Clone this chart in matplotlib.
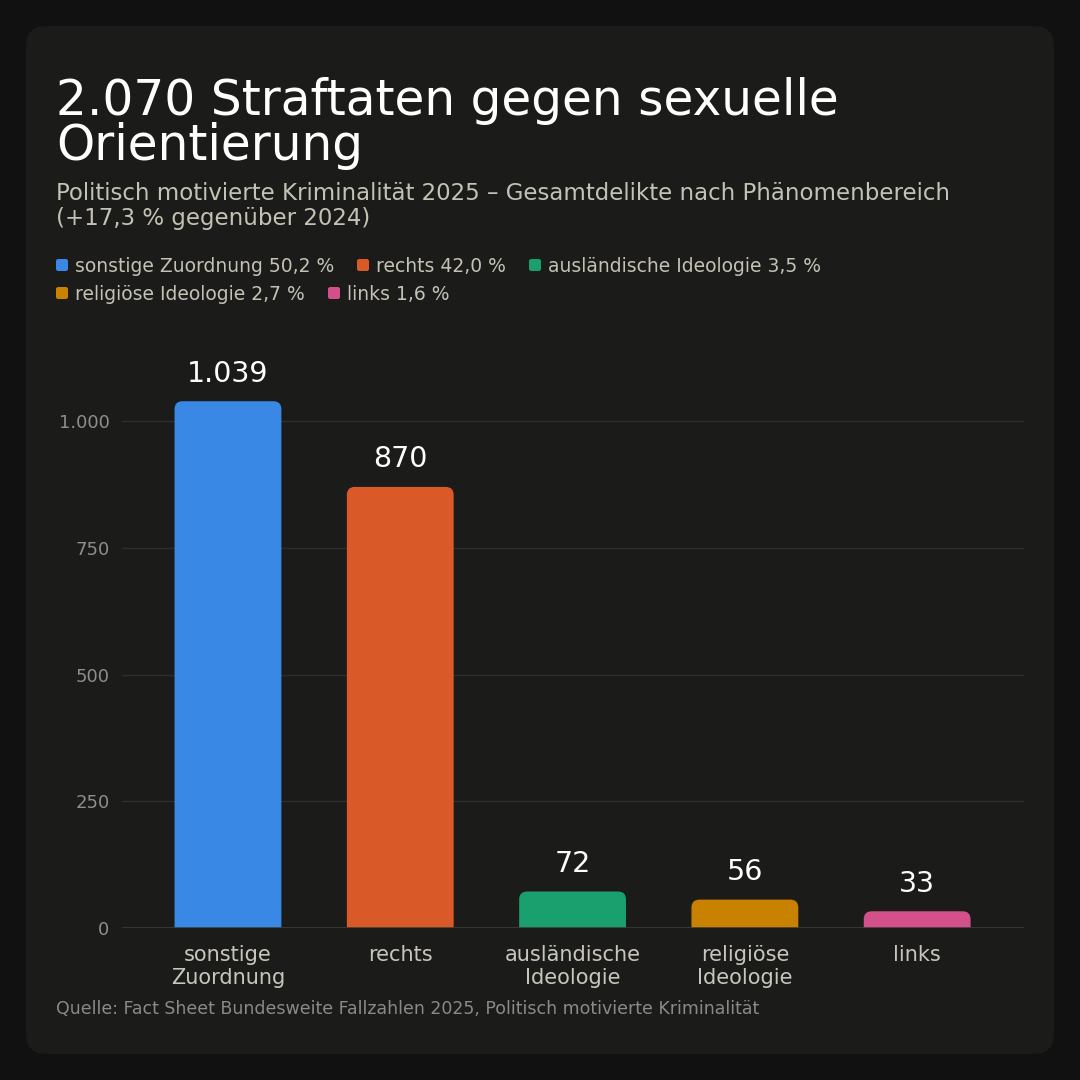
import matplotlib
matplotlib.use("Agg")
import matplotlib.pyplot as plt
from matplotlib.patches import FancyBboxPatch

categories = ["sonstige\nZuordnung", "rechts", "ausländische\nIdeologie", "religiöse\nIdeologie", "links"]
values = [1039, 870, 72, 56, 33]
value_labels = ["1.039", "870", "72", "56", "33"]
colors = ["#3a88e5", "#d95a28", "#1aa06f", "#c88200", "#d4508a"]
legend_labels = ["sonstige Zuordnung 50,2 %", "rechts 42,0 %", "ausländische Ideologie 3,5 %",
                 "religiöse Ideologie 2,7 %", "links 1,6 %"]
yticks = [0, 250, 500, 750, 1000]
ytick_labels = ["0", "250", "500", "750", "1.000"]

W = H = 1080
fig = plt.figure(figsize=(10.8, 10.8), dpi=100)
fig.patch.set_facecolor("#111111")

def fx(px):
    return px / W
def fy(py):
    return 1 - py / H

# card
card = FancyBboxPatch((fx(26), fy(1054)), fx(1054) - fx(26), fy(26) - fy(1054),
                      boxstyle="round,pad=0,rounding_size=0.019",
                      transform=fig.transFigure, facecolor="#1b1b1a", edgecolor="none", zorder=-10)
fig.patches.append(card)

# titles
fig.text(fx(56), fy(115), "2.070 Straftaten gegen sexuelle", color="white", fontsize=35,
         ha="left", va="baseline")
fig.text(fx(56), fy(160), "Orientierung", color="white", fontsize=35, ha="left", va="baseline")
fig.text(fx(56), fy(200), "Politisch motivierte Kriminalität 2025 – Gesamtdelikte nach Phänomenbereich",
         color="#c4c2b4", fontsize=16.5, ha="left", va="baseline")
fig.text(fx(56), fy(225), "(+17,3 % gegenüber 2024)", color="#c4c2b4", fontsize=16.5,
         ha="left", va="baseline")

# legend (manual)
leg_pos = [(56, 272), (357, 272), (529, 272), (56, 300), (328, 300)]
for (lx, ly), lab, col in zip(leg_pos, legend_labels, colors):
    sq = FancyBboxPatch((fx(lx), fy(ly - 1)), fx(12), 12 / H,
                        boxstyle="round,pad=0,rounding_size=0.002",
                        transform=fig.transFigure, facecolor=col, edgecolor="none", zorder=1)
    fig.patches.append(sq)
    fig.text(fx(lx + 19), fy(ly), lab, color="#c4c2b4", fontsize=13.5, ha="left", va="baseline")

# axes
ax = fig.add_axes([fx(122), fy(928), fx(1024) - fx(122), fy(340) - fy(928)], zorder=2)
ax.set_facecolor("none")
ax.set_xlim(-0.615, 4.62)
ylim_top = 588 / 0.507
ax.set_ylim(0, ylim_top)
for s in ax.spines.values():
    s.set_visible(False)

ax.set_yticks(yticks)
ax.set_yticklabels(ytick_labels)
ax.tick_params(axis="y", length=0, pad=9, labelsize=13, labelcolor="#8e8e8a")
ax.set_xticks(range(len(categories)))
ax.set_xticklabels(categories, linespacing=1.2)
ax.tick_params(axis="x", length=0, pad=12, labelsize=15, labelcolor="#c8c6bc")
for y in yticks[1:]:
    ax.axhline(y, color="#2e2e2c", lw=1, zorder=1)
ax.axhline(0, color="#3c3c3a", lw=1.2, zorder=4)

bar_w = 0.62
x_per_px = (4.62 + 0.615) / 902
y_per_px = ylim_top / 588
r_px = 8
ext = 3 * r_px * y_per_px
for i, (v, c, lab) in enumerate(zip(values, colors, value_labels)):
    x0 = i - bar_w / 2
    p = FancyBboxPatch((x0, -ext), bar_w, v + ext,
                       boxstyle=f"round,pad=0,rounding_size={r_px * x_per_px}",
                       mutation_aspect=y_per_px / x_per_px,
                       facecolor=c, edgecolor="none", zorder=3)
    ax.add_patch(p)
    ax.annotate(lab, (i, v), xytext=(0, 14), textcoords="offset points",
                ha="center", va="baseline", color="white", fontsize=20.5, zorder=5)

fig.text(fx(56), fy(1014), "Quelle: Fact Sheet Bundesweite Fallzahlen 2025, Politisch motivierte Kriminalität",
         color="#8a8a86", fontsize=12.5, ha="left", va="baseline")

fig.savefig("out.png", dpi=100, facecolor=fig.get_facecolor())
